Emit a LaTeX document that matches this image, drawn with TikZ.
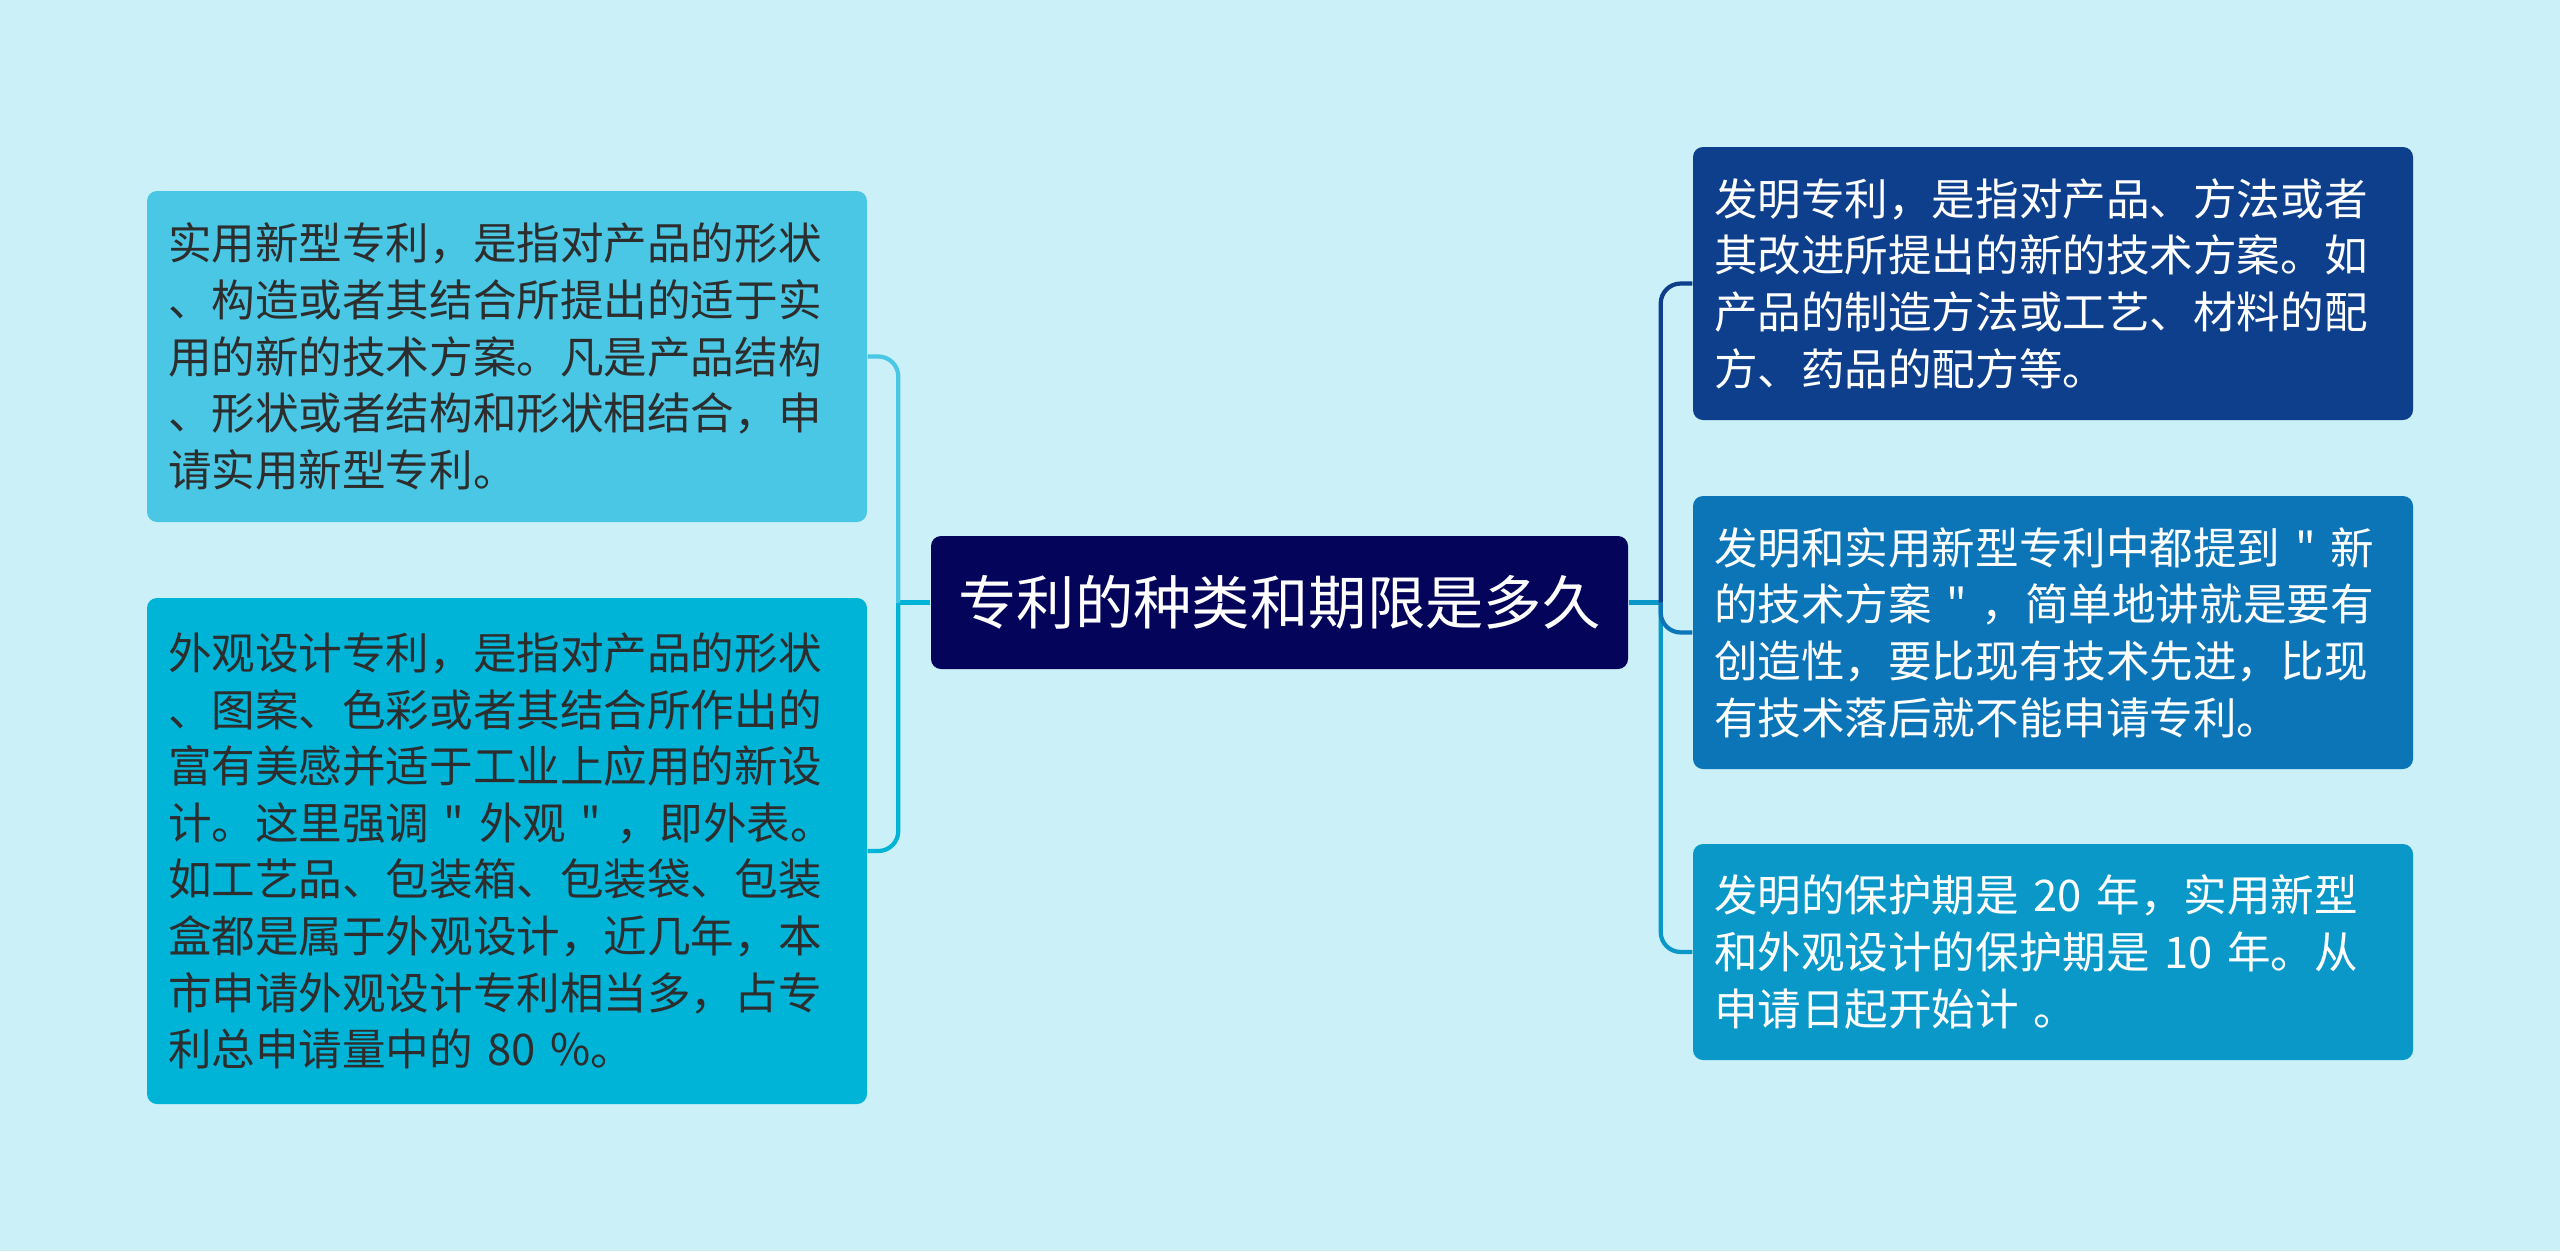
\documentclass[tikz,border=0pt]{standalone}
\usepackage{fontspec}
\newfontfamily\cjk{Noto Sans CJK SC}
\usepackage{tikz}

\definecolor{bgcyan}{RGB}{203,240,247}
\definecolor{rootblue}{RGB}{4,4,90}
\definecolor{leftA}{RGB}{74,199,228}
\definecolor{leftB}{RGB}{0,180,215}
\definecolor{rightA}{RGB}{14,63,140}
\definecolor{rightB}{RGB}{11,117,183}
\definecolor{rightC}{RGB}{10,152,201}
\definecolor{darktext}{RGB}{45,45,45}

\begin{document}
\begin{tikzpicture}[x=0.1mm,y=-0.1mm,
  leaf/.style={rectangle,rounded corners=1mm,inner xsep=2.1mm,inner ysep=0pt,
    text width=67.8mm,align=left,font=\cjk\fontsize{12.4}{16.1}\selectfont},
  link/.style={line width=1.2pt,rounded corners=2mm}]
  \fill[bgcyan] (0,0) rectangle (2560,1251);

  % centre topic
  \node[fill=rootblue,text=white,rounded corners=1mm,minimum width=69.7mm,minimum height=13.3mm,
    font=\cjk\fontsize{16.6}{20}\selectfont] (root) at (1279.5,602.5) {专利的种类和期限是多久};

  % left side
  \node[leaf,fill=leftA,text=darktext,minimum height=33.1mm] (utility) at (507,356.5)
    {实用新型专利，是指对产品的形状\\
     、构造或者其结合所提出的适于实\\
     用的新的技术方案。凡是产品结构\\
     、形状或者结构和形状相结合，申\\
     请实用新型专利。};
  \node[leaf,fill=leftB,text=darktext,minimum height=50.6mm] (design) at (507,851)
    {外观设计专利，是指对产品的形状\\
     、图案、色彩或者其结合所作出的\\
     富有美感并适于工业上应用的新设\\
     计。这里强调 " 外观 " ，即外表。\\
     如工艺品、包装箱、包装袋、包装\\
     盒都是属于外观设计，近几年，本\\
     市申请外观设计专利相当多，占专\\
     利总申请量中的 80 \%。};

  % right side
  \node[leaf,fill=rightA,text=white,minimum height=27.3mm] (invent) at (2053,283.5)
    {发明专利，是指对产品、方法或者\\
     其改进所提出的新的技术方案。如\\
     产品的制造方法或工艺、材料的配\\
     方、药品的配方等。};
  \node[leaf,fill=rightB,text=white,minimum height=27.3mm] (novel) at (2053,632.5)
    {发明和实用新型专利中都提到 " 新\\
     的技术方案 " ，简单地讲就是要有\\
     创造性，要比现有技术先进，比现\\
     有技术落后就不能申请专利。};
  \node[leaf,fill=rightC,text=white,minimum height=21.6mm] (term) at (2053,952)
    {发明的保护期是 20 年，实用新型\\
     和外观设计的保护期是 10 年。从\\
     申请日起开始计 。};

  % connectors
  \coordinate (lj) at ([xshift=-3.2mm]root.west);
  \coordinate (rj) at ([xshift=3.2mm]root.east);
  \draw[link,leftB] (root.west) -- (lj);
  \draw[link,leftB] (lj) |- (design.east);
  \draw[link,leftA] (lj) |- (utility.east);
  \draw[link,rightC] (root.east) -- (rj);
  \draw[link,rightC] (rj) |- (term.west);
  \draw[link,rightB] (rj) |- (novel.west);
  \draw[link,rightA] (rj) |- (invent.west);
\end{tikzpicture}
\end{document}
